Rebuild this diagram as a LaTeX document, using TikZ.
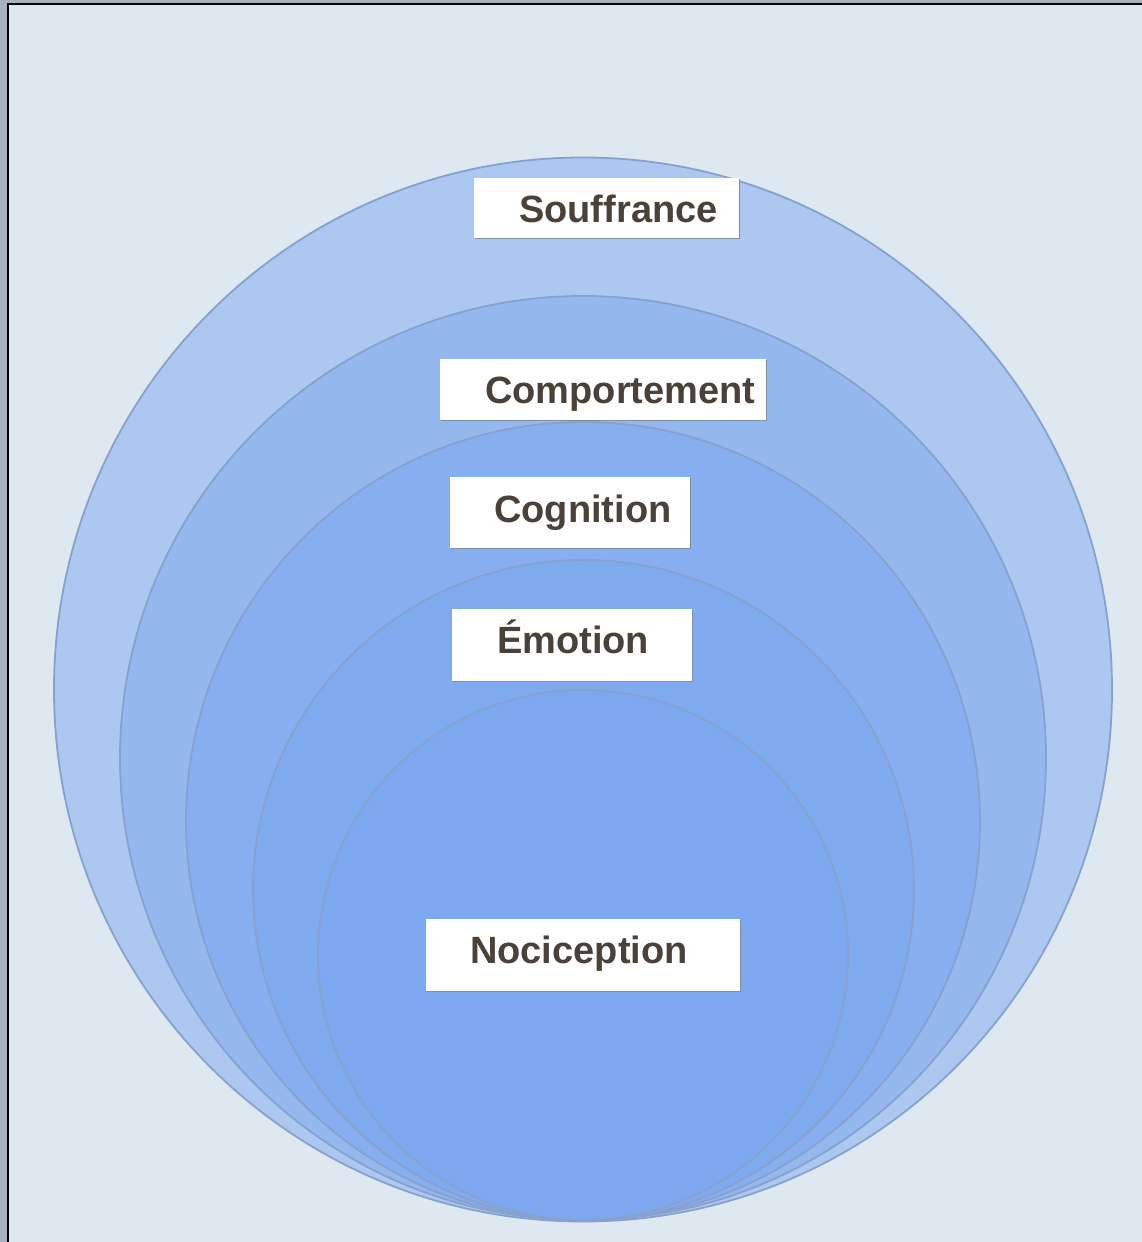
\documentclass[tikz,border=0pt]{standalone}
\usepackage{fontspec}
\setmainfont{Liberation Sans}
\definecolor{bgc}{HTML}{DEE8F1}
\definecolor{stripc}{HTML}{A5B1BD}
\definecolor{ringA}{HTML}{ADC8F0}
\definecolor{ringB}{HTML}{94B7EE}
\definecolor{ringC}{HTML}{87AEEE}
\definecolor{ringD}{HTML}{80AAEE}
\definecolor{ringE}{HTML}{7DA8EF}
\definecolor{ringline}{HTML}{87A1CF}
\definecolor{txtc}{HTML}{4A4139}
\definecolor{shadowc}{HTML}{7F8DA6}
\begin{document}
\begin{tikzpicture}[x=1pt,y=-1pt,
  ring/.style={draw=ringline,line width=1.8pt},
  lbl/.style={text=txtc,font=\fontsize{38}{45}\selectfont\bfseries,inner sep=0pt,anchor=base west}]
\useasboundingbox (0,0) rectangle (1142,1242);
% background and frame
\fill[stripc] (0,0) rectangle (1142,1242);
\fill[bgc] (9,5) rectangle (1142,1242);
\draw[black,line width=2.5pt] (8,1242) -- (8,4) -- (1142,4);
% rings
\draw[ring,fill=ringA] (583,689.5) ellipse [x radius=529,y radius=532];
\draw[ring,fill=ringB] (583,758) ellipse [x radius=463,y radius=462];
\draw[ring,fill=ringC] (583,821) ellipse [x radius=397,y radius=399];
\draw[ring,fill=ringD] (583.5,890) ellipse [x radius=330.5,y radius=330];
\draw[ring,fill=ringE] (583,955) ellipse [x radius=265,y radius=265];
% boxes
\newcommand{\lbox}[5]{%
  \fill[shadowc] (#2+1.2,#3+1.2) rectangle (#4+1.2,#5+1.2);
  \node[fill=white,inner sep=0pt,minimum width={#4-#2},minimum height={#5-#3},anchor=north west] (#1) at (#2,#3) {};}
\lbox{bS}{474}{178}{739}{238}
\lbox{bP}{440}{359}{766}{420}
\lbox{bC}{450}{477}{690}{548}
\lbox{bE}{452}{609}{692}{681}
\lbox{bN}{426}{919}{740}{991}
% texts
\node[lbl] (tS) at (519,222) {Souffrance};
\node[lbl] (tP) at (485,403) {Comportement};
\node[lbl] (tC) at (494,522) {Cognition};
\node[lbl] (tE) at (497,653) {Émotion};
\node[lbl] (tN) at (470,963) {Nociception};
\end{tikzpicture}
\end{document}
